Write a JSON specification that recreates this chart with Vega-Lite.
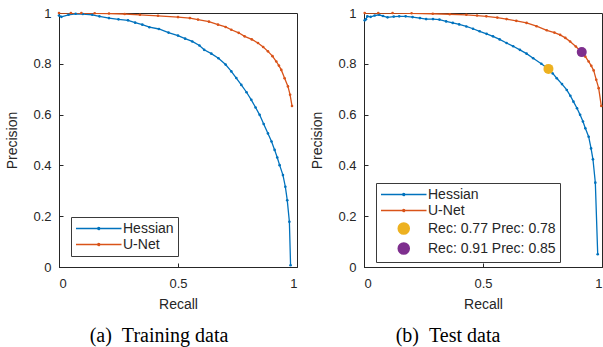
{
  "$schema": "https://vega.github.io/schema/vega-lite/v6.json",
  "padding": {"left": 5, "top": 6, "right": 0, "bottom": 0},
  "background": "white",
  "spacing": 12,
  "config": {
    "view": {"stroke": "#262626", "strokeWidth": 1},
    "axis": {
      "grid": false, "domainColor": "#262626", "tickColor": "#262626", "tickSize": -4,
      "labelFont": "Liberation Sans", "labelFontSize": 13, "labelColor": "#262626",
      "titleFont": "Liberation Sans", "titleFontSize": 14, "titleFontWeight": "normal", "titleColor": "#262626",
      "labelPadding": 12
    },
    "axisX": {"titlePadding": 7, "labelPadding": 14},
    "axisY": {"titlePadding": 13},
    "legend": {
      "labelFont": "Liberation Sans", "labelFontSize": 14, "labelColor": "#262626",
      "strokeColor": "#3a3a3a", "fillColor": "white", "padding": 4, "rowPadding": 1, "labelOffset": 33,
      "symbolSize": 169, "symbolStrokeWidth": 1.5, "symbolType": "M-1,0H6"
    },
    "title": {"font": "Liberation Serif", "fontSize": 20, "fontWeight": "normal", "color": "black", "orient": "bottom", "offset": 15}
  },
  "datasets": {
    "train": [
      {"recall": 0.0, "precision": 0.99, "series": "Hessian"},
      {"recall": 0.01, "precision": 0.985, "series": "Hessian"},
      {"recall": 0.04, "precision": 0.993, "series": "Hessian"},
      {"recall": 0.07, "precision": 0.997, "series": "Hessian"},
      {"recall": 0.1, "precision": 0.996, "series": "Hessian"},
      {"recall": 0.14, "precision": 0.993, "series": "Hessian"},
      {"recall": 0.17, "precision": 0.987, "series": "Hessian"},
      {"recall": 0.21, "precision": 0.98, "series": "Hessian"},
      {"recall": 0.25, "precision": 0.975, "series": "Hessian"},
      {"recall": 0.29, "precision": 0.971, "series": "Hessian"},
      {"recall": 0.32, "precision": 0.962, "series": "Hessian"},
      {"recall": 0.35, "precision": 0.954, "series": "Hessian"},
      {"recall": 0.38, "precision": 0.944, "series": "Hessian"},
      {"recall": 0.42, "precision": 0.937, "series": "Hessian"},
      {"recall": 0.46, "precision": 0.923, "series": "Hessian"},
      {"recall": 0.5, "precision": 0.911, "series": "Hessian"},
      {"recall": 0.53, "precision": 0.899, "series": "Hessian"},
      {"recall": 0.56, "precision": 0.888, "series": "Hessian"},
      {"recall": 0.59, "precision": 0.872, "series": "Hessian"},
      {"recall": 0.61, "precision": 0.855, "series": "Hessian"},
      {"recall": 0.64, "precision": 0.84, "series": "Hessian"},
      {"recall": 0.67, "precision": 0.822, "series": "Hessian"},
      {"recall": 0.7, "precision": 0.797, "series": "Hessian"},
      {"recall": 0.724, "precision": 0.77, "series": "Hessian"},
      {"recall": 0.745, "precision": 0.744, "series": "Hessian"},
      {"recall": 0.766, "precision": 0.717, "series": "Hessian"},
      {"recall": 0.788, "precision": 0.688, "series": "Hessian"},
      {"recall": 0.808, "precision": 0.658, "series": "Hessian"},
      {"recall": 0.826, "precision": 0.628, "series": "Hessian"},
      {"recall": 0.843, "precision": 0.599, "series": "Hessian"},
      {"recall": 0.86, "precision": 0.563, "series": "Hessian"},
      {"recall": 0.878, "precision": 0.526, "series": "Hessian"},
      {"recall": 0.893, "precision": 0.494, "series": "Hessian"},
      {"recall": 0.906, "precision": 0.461, "series": "Hessian"},
      {"recall": 0.917, "precision": 0.431, "series": "Hessian"},
      {"recall": 0.927, "precision": 0.401, "series": "Hessian"},
      {"recall": 0.941, "precision": 0.362, "series": "Hessian"},
      {"recall": 0.951, "precision": 0.316, "series": "Hessian"},
      {"recall": 0.959, "precision": 0.263, "series": "Hessian"},
      {"recall": 0.968, "precision": 0.178, "series": "Hessian"},
      {"recall": 0.973, "precision": 0.007, "series": "Hessian"},
      {"recall": 0.0, "precision": 1.0, "series": "U-Net"},
      {"recall": 0.05, "precision": 1.0, "series": "U-Net"},
      {"recall": 0.094, "precision": 1.0, "series": "U-Net"},
      {"recall": 0.15, "precision": 0.999, "series": "U-Net"},
      {"recall": 0.21, "precision": 0.998, "series": "U-Net"},
      {"recall": 0.276, "precision": 0.996, "series": "U-Net"},
      {"recall": 0.34, "precision": 0.993, "series": "U-Net"},
      {"recall": 0.416, "precision": 0.989, "series": "U-Net"},
      {"recall": 0.5, "precision": 0.984, "series": "U-Net"},
      {"recall": 0.55, "precision": 0.98, "series": "U-Net"},
      {"recall": 0.584, "precision": 0.974, "series": "U-Net"},
      {"recall": 0.63, "precision": 0.966, "series": "U-Net"},
      {"recall": 0.668, "precision": 0.954, "series": "U-Net"},
      {"recall": 0.7, "precision": 0.945, "series": "U-Net"},
      {"recall": 0.724, "precision": 0.934, "series": "U-Net"},
      {"recall": 0.755, "precision": 0.922, "series": "U-Net"},
      {"recall": 0.78, "precision": 0.908, "series": "U-Net"},
      {"recall": 0.81, "precision": 0.896, "series": "U-Net"},
      {"recall": 0.836, "precision": 0.882, "series": "U-Net"},
      {"recall": 0.858, "precision": 0.866, "series": "U-Net"},
      {"recall": 0.878, "precision": 0.849, "series": "U-Net"},
      {"recall": 0.897, "precision": 0.83, "series": "U-Net"},
      {"recall": 0.913, "precision": 0.809, "series": "U-Net"},
      {"recall": 0.924, "precision": 0.793, "series": "U-Net"},
      {"recall": 0.934, "precision": 0.776, "series": "U-Net"},
      {"recall": 0.948, "precision": 0.743, "series": "U-Net"},
      {"recall": 0.962, "precision": 0.711, "series": "U-Net"},
      {"recall": 0.971, "precision": 0.678, "series": "U-Net"},
      {"recall": 0.979, "precision": 0.634, "series": "U-Net"}
    ],
    "test": [
      {"recall": 0.003, "precision": 0.971, "series": "Hessian"},
      {"recall": 0.008, "precision": 0.975, "series": "Hessian"},
      {"recall": 0.014, "precision": 0.987, "series": "Hessian"},
      {"recall": 0.028, "precision": 0.985, "series": "Hessian"},
      {"recall": 0.045, "precision": 0.99, "series": "Hessian"},
      {"recall": 0.063, "precision": 0.993, "series": "Hessian"},
      {"recall": 0.08, "precision": 0.988, "series": "Hessian"},
      {"recall": 0.099, "precision": 0.983, "series": "Hessian"},
      {"recall": 0.125, "precision": 0.986, "series": "Hessian"},
      {"recall": 0.148, "precision": 0.987, "series": "Hessian"},
      {"recall": 0.175, "precision": 0.987, "series": "Hessian"},
      {"recall": 0.204, "precision": 0.984, "series": "Hessian"},
      {"recall": 0.235, "precision": 0.98, "series": "Hessian"},
      {"recall": 0.261, "precision": 0.976, "series": "Hessian"},
      {"recall": 0.29, "precision": 0.976, "series": "Hessian"},
      {"recall": 0.317, "precision": 0.974, "series": "Hessian"},
      {"recall": 0.345, "precision": 0.967, "series": "Hessian"},
      {"recall": 0.373, "precision": 0.961, "series": "Hessian"},
      {"recall": 0.4, "precision": 0.955, "series": "Hessian"},
      {"recall": 0.43, "precision": 0.947, "series": "Hessian"},
      {"recall": 0.458, "precision": 0.938, "series": "Hessian"},
      {"recall": 0.486, "precision": 0.928, "series": "Hessian"},
      {"recall": 0.515, "precision": 0.918, "series": "Hessian"},
      {"recall": 0.542, "precision": 0.908, "series": "Hessian"},
      {"recall": 0.57, "precision": 0.896, "series": "Hessian"},
      {"recall": 0.599, "precision": 0.882, "series": "Hessian"},
      {"recall": 0.627, "precision": 0.869, "series": "Hessian"},
      {"recall": 0.655, "precision": 0.855, "series": "Hessian"},
      {"recall": 0.683, "precision": 0.84, "series": "Hessian"},
      {"recall": 0.711, "precision": 0.822, "series": "Hessian"},
      {"recall": 0.745, "precision": 0.8, "series": "Hessian"},
      {"recall": 0.775, "precision": 0.78, "series": "Hessian"},
      {"recall": 0.793, "precision": 0.762, "series": "Hessian"},
      {"recall": 0.81, "precision": 0.743, "series": "Hessian"},
      {"recall": 0.832, "precision": 0.72, "series": "Hessian"},
      {"recall": 0.852, "precision": 0.697, "series": "Hessian"},
      {"recall": 0.867, "precision": 0.674, "series": "Hessian"},
      {"recall": 0.88, "precision": 0.651, "series": "Hessian"},
      {"recall": 0.895, "precision": 0.625, "series": "Hessian"},
      {"recall": 0.908, "precision": 0.599, "series": "Hessian"},
      {"recall": 0.92, "precision": 0.573, "series": "Hessian"},
      {"recall": 0.93, "precision": 0.546, "series": "Hessian"},
      {"recall": 0.944, "precision": 0.513, "series": "Hessian"},
      {"recall": 0.954, "precision": 0.467, "series": "Hessian"},
      {"recall": 0.962, "precision": 0.424, "series": "Hessian"},
      {"recall": 0.972, "precision": 0.332, "series": "Hessian"},
      {"recall": 0.982, "precision": 0.05, "series": "Hessian"},
      {"recall": 0.003, "precision": 1.0, "series": "U-Net"},
      {"recall": 0.06, "precision": 1.0, "series": "U-Net"},
      {"recall": 0.12, "precision": 1.0, "series": "U-Net"},
      {"recall": 0.2, "precision": 0.999, "series": "U-Net"},
      {"recall": 0.289, "precision": 0.997, "series": "U-Net"},
      {"recall": 0.36, "precision": 0.995, "series": "U-Net"},
      {"recall": 0.43, "precision": 0.993, "series": "U-Net"},
      {"recall": 0.475, "precision": 0.99, "series": "U-Net"},
      {"recall": 0.514, "precision": 0.987, "series": "U-Net"},
      {"recall": 0.56, "precision": 0.982, "series": "U-Net"},
      {"recall": 0.599, "precision": 0.976, "series": "U-Net"},
      {"recall": 0.64, "precision": 0.969, "series": "U-Net"},
      {"recall": 0.683, "precision": 0.961, "series": "U-Net"},
      {"recall": 0.725, "precision": 0.948, "series": "U-Net"},
      {"recall": 0.768, "precision": 0.932, "series": "U-Net"},
      {"recall": 0.8, "precision": 0.923, "series": "U-Net"},
      {"recall": 0.824, "precision": 0.914, "series": "U-Net"},
      {"recall": 0.846, "precision": 0.902, "series": "U-Net"},
      {"recall": 0.866, "precision": 0.888, "series": "U-Net"},
      {"recall": 0.89, "precision": 0.868, "series": "U-Net"},
      {"recall": 0.915, "precision": 0.845, "series": "U-Net"},
      {"recall": 0.93, "precision": 0.828, "series": "U-Net"},
      {"recall": 0.944, "precision": 0.809, "series": "U-Net"},
      {"recall": 0.955, "precision": 0.792, "series": "U-Net"},
      {"recall": 0.965, "precision": 0.774, "series": "U-Net"},
      {"recall": 0.976, "precision": 0.737, "series": "U-Net"},
      {"recall": 0.986, "precision": 0.704, "series": "U-Net"},
      {"recall": 0.997, "precision": 0.634, "series": "U-Net"}
    ],
    "ops": [
      {"recall": 0.775, "precision": 0.78, "series": "Rec: 0.77 Prec: 0.78"},
      {"recall": 0.915, "precision": 0.846, "series": "Rec: 0.91 Prec: 0.85"}
    ]
  },
  "resolve": {"scale": {"color": "independent"}, "legend": {"color": "independent"}},
  "hconcat": [
    {
      "width": 238, "height": 254,
      "title": {"text": "(a)\u2002Training data", "dx": -19},
      "data": {"name": "train"},
      "layer": [
        {
          "mark": {"type": "line", "strokeWidth": 1.3, "clip": true},
          "encoding": {
            "x": {"field": "recall", "type": "quantitative", "scale": {"domain": [0, 1], "nice": false},
                  "axis": {"title": "Recall", "values": [0, 0.5, 1], "labelExpr": "datum.value"}},
            "y": {"field": "precision", "type": "quantitative", "scale": {"domain": [0, 1], "nice": false},
                  "axis": {"title": "Precision", "values": [0, 0.2, 0.4, 0.6, 0.8, 1], "labelExpr": "datum.value"}},
            "color": {"field": "series", "type": "nominal",
                      "scale": {"domain": ["Hessian", "U-Net"], "range": ["#0072BD", "#D95319"]},
                      "legend": {"title": null, "orient": "none", "legendX": 12, "legendY": 204,
                                 "labelExpr": "datum.label + '  '",
                                 "encode": {"symbols": {"update": {
                                   "shape": {"value": "M-1,0H6M2.35,0A0.15,0.15,0,1,1,2.65,0A0.15,0.15,0,1,1,2.35,0"},
                                   "size": {"value": 169},
                                   "fill": {"value": "transparent"},
                                   "stroke": {"signal": "datum.value == 'Hessian' ? '#0072BD' : '#D95319'"},
                                   "strokeWidth": {"value": 1.5}
                                 }}}}}
          }
        },
        {
          "mark": {"type": "point", "filled": true, "size": 7, "opacity": 1},
          "encoding": {
            "x": {"field": "recall", "type": "quantitative"},
            "y": {"field": "precision", "type": "quantitative"},
            "color": {"field": "series", "type": "nominal", "legend": null}
          }
        }
      ]
    },
    {
      "width": 238, "height": 254,
      "title": {"text": "(b)\u2002Test data", "dx": -35},
      "layer": [
        {
          "data": {"name": "test"},
          "mark": {"type": "line", "strokeWidth": 1.3, "clip": true},
          "encoding": {
            "x": {"field": "recall", "type": "quantitative", "scale": {"domain": [0, 1], "nice": false},
                  "axis": {"title": "Recall", "values": [0, 0.5, 1], "labelExpr": "datum.value"}},
            "y": {"field": "precision", "type": "quantitative", "scale": {"domain": [0, 1], "nice": false},
                  "axis": {"title": "Precision", "values": [0, 0.2, 0.4, 0.6, 0.8, 1], "labelExpr": "datum.value"}},
            "color": {"field": "series", "type": "nominal",
                      "scale": {"domain": ["Hessian", "U-Net", "Rec: 0.77 Prec: 0.78", "Rec: 0.91 Prec: 0.85"],
                                "range": ["#0072BD", "#D95319", "#EDB120", "#7E2F8E"]},
                      "legend": {"title": null, "orient": "none", "legendX": 12, "legendY": 170,
                                 "labelExpr": "datum.label + '     '",
                                 "encode": {"symbols": {"update": {
                                   "shape": {"signal": "indexof(['Hessian','U-Net'], datum.value) >= 0 ? 'M-1,0H6M2.35,0A0.15,0.15,0,1,1,2.65,0A0.15,0.15,0,1,1,2.35,0' : 'M1.65,0A0.85,0.85,0,1,1,3.35,0A0.85,0.85,0,1,1,1.65,0Z'"},
                                   "size": {"value": 169},
                                   "fill": {"signal": "datum.value == 'Hessian' || datum.value == 'U-Net' ? 'transparent' : (datum.value == 'Rec: 0.77 Prec: 0.78' ? '#EDB120' : '#7E2F8E')"},
                                   "stroke": {"signal": "datum.value == 'Hessian' ? '#0072BD' : (datum.value == 'U-Net' ? '#D95319' : 'transparent')"},
                                   "strokeWidth": {"value": 1.5}
                                 }}}}}
          }
        },
        {
          "data": {"name": "test"},
          "mark": {"type": "point", "filled": true, "size": 7, "opacity": 1},
          "encoding": {
            "x": {"field": "recall", "type": "quantitative"},
            "y": {"field": "precision", "type": "quantitative"},
            "color": {"field": "series", "type": "nominal", "legend": null}
          }
        },
        {
          "data": {"name": "ops"},
          "mark": {"type": "point", "filled": true, "size": 100, "opacity": 1},
          "encoding": {
            "x": {"field": "recall", "type": "quantitative"},
            "y": {"field": "precision", "type": "quantitative"},
            "color": {"field": "series", "type": "nominal", "legend": null}
          }
        }
      ]
    }
  ]
}
